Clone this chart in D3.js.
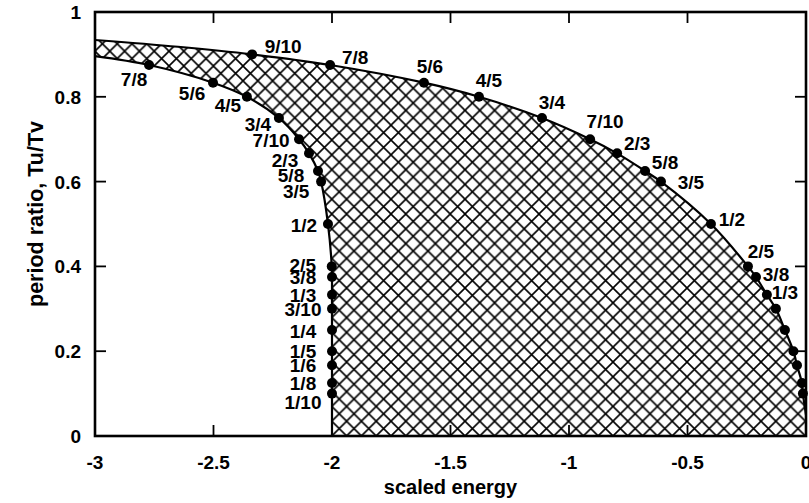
<!DOCTYPE html>
<html>
<head>
<meta charset="utf-8">
<script src="https://cdn.jsdelivr.net/npm/d3@7/dist/d3.min.js"></script>
<style>
  html, body { margin: 0; padding: 0; background: #fff; }
  svg { display: block; }
  text { font-family: "Liberation Sans", Arial, Helvetica, sans-serif; font-weight: bold; fill: #000; }
</style>
</head>
<body>
<svg id="chart" width="809" height="503"></svg>
<script>
// Rotation ratios (period ratio Tu/Tv) and their labels
const ratioLabels = ["1/10", "1/8", "1/6", "1/5", "1/4", "3/10", "1/3", "3/8", "2/5", "1/2",
                     "3/5", "5/8", "2/3", "7/10", "3/4", "4/5", "5/6", "7/8", "9/10"];
const ratioValues = [0.1, 0.125, 1 / 6, 0.2, 0.25, 0.3, 1 / 3, 0.375, 0.4, 0.5,
                     0.6, 0.625, 2 / 3, 0.7, 0.75, 0.8, 5 / 6, 0.875, 0.9];

// Scaled energy of each resonance on the outer (upper) boundary
const upperEnergy = [-0.013, -0.017, -0.038, -0.053, -0.089, -0.127, -0.165, -0.211, -0.245, -0.401,
                     -0.612, -0.679, -0.797, -0.911, -1.114, -1.380, -1.612, -2.008, -2.337];
// Scaled energy of each resonance on the inner (left) boundary; 9/10 is not reached there
const lowerEnergy = [-2.000, -2.000, -2.000, -2.000, -2.000, -2.000, -2.000, -2.000, -2.001, -2.017,
                     -2.046, -2.059, -2.097, -2.139, -2.224, -2.359, -2.502, -2.772, null];

// Boundary ends that carry no resonance marker
const upperStart = [-3, 0.934];
const upperBend = [-2.65, 0.918];
const upperEnd = [0, 0.05];
const lowerStart = [-3, 0.896];
const lowerEnd = [-2, 0];

// Axis ticks
const xTicks = [-3, -2.5, -2, -1.5, -1, -0.5, 0];
const yTicks = [0, 0.2, 0.4, 0.6, 0.8, 1];

// Label offsets (centre x, baseline y) from each marker, in pixels
const upperLabelOffset = {
  "9/10": [31, -1], "7/8": [25, -1], "5/6": [6, -10], "4/5": [10, -10], "3/4": [10, -9],
  "7/10": [15, -11], "2/3": [20, -3], "5/8": [20, -2], "3/5": [30, 7], "1/2": [21, 2],
  "2/5": [13, -8], "3/8": [20, 4], "1/3": [18, 4]
};
const lowerLabelOffset = {
  "7/8": [-15, 21], "5/6": [-21, 17], "4/5": [-19, 15], "3/4": [-21, 13], "7/10": [-28, 8],
  "2/3": [-24, 14], "5/8": [-27, 11], "3/5": [-25, 16], "1/2": [-24, 8],
  "2/5": [-29, 6], "3/8": [-29, 7], "1/3": [-29, 7], "3/10": [-29, 7], "1/4": [-29, 8],
  "1/5": [-29, 7], "1/6": [-29, 7], "1/8": [-29, 7], "1/10": [-29, 15]
};

const svg = d3.select("#chart");
const margin = { left: 95, right: 3, top: 12, bottom: 67 };
const W = 809, H = 503;
const x = d3.scaleLinear().domain([-3, 0]).range([margin.left, W - margin.right]);
const y = d3.scaleLinear().domain([0, 1]).range([H - margin.bottom, margin.top]);
const x0 = x(-3), x1 = x(0), y0 = y(0), y1 = y(1);

// Crosshatch pattern
const defs = svg.append("defs");
const p = 14.8;
const pat = defs.append("pattern")
  .attr("id", "xhatch").attr("patternUnits", "userSpaceOnUse")
  .attr("width", p).attr("height", p)
  .attr("x", x0).attr("y", y0);
pat.append("path")
  .attr("d", `M0,0L${p},${p}M${p},0L0,${p}M${-p / 2},${p / 2}L${p / 2},${3 * p / 2}M${p / 2},${-p / 2}L${3 * p / 2},${p / 2}M${p / 2},${-p / 2}L${-p / 2},${p / 2}M${3 * p / 2},${p / 2}L${p / 2},${3 * p / 2}`)
  .attr("stroke", "#000").attr("stroke-width", 1.6).attr("fill", "none");
defs.append("clipPath").attr("id", "plotclip")
  .append("rect").attr("x", x0).attr("y", y1).attr("width", x1 - x0).attr("height", y0 - y1);

// Boundary point lists
const upperPts = [upperStart, upperBend];
for (let i = ratioValues.length - 1; i >= 0; i--) upperPts.push([upperEnergy[i], ratioValues[i]]);
upperPts.push(upperEnd);

const lowerPts = [lowerStart];
for (let i = ratioValues.length - 1; i >= 0; i--) {
  if (lowerEnergy[i] !== null) lowerPts.push([lowerEnergy[i], ratioValues[i]]);
}
lowerPts.push(lowerEnd);

const line = d3.line().x(d => x(d[0])).y(d => y(d[1])).curve(d3.curveCatmullRom.alpha(0.5));

const upperD = line(upperPts);
const lowerD = line(lowerPts);
const lowerRevD = line(lowerPts.slice().reverse());

// Hatched region between the two boundaries
const regionD = upperD +
  `L${x(0)},${y(0)}L${x(-2)},${y(0)}` +
  "L" + lowerRevD.slice(1) + "Z";

const plot = svg.append("g").attr("clip-path", "url(#plotclip)");
plot.append("path").attr("d", regionD).attr("fill", "url(#xhatch)").attr("stroke", "none");
plot.append("path").attr("d", upperD).attr("fill", "none").attr("stroke", "#000").attr("stroke-width", 2.2);
plot.append("path").attr("d", lowerD).attr("fill", "none").attr("stroke", "#000").attr("stroke-width", 2.2);

// Resonance markers
const upperMarks = ratioValues.map((r, i) => ({ e: upperEnergy[i], r, label: ratioLabels[i] }));
const lowerMarks = ratioValues.map((r, i) => ({ e: lowerEnergy[i], r, label: ratioLabels[i] }))
  .filter(d => d.e !== null);

svg.append("g").selectAll("circle").data(upperMarks.concat(lowerMarks)).join("circle")
  .attr("cx", d => x(d.e)).attr("cy", d => y(d.r)).attr("r", 5).attr("fill", "#000");

// Marker labels
const labelG = svg.append("g").attr("font-size", 19).attr("text-anchor", "middle");
labelG.selectAll("text.up").data(upperMarks.filter(d => upperLabelOffset[d.label])).join("text")
  .attr("class", "up")
  .attr("x", d => x(d.e) + upperLabelOffset[d.label][0])
  .attr("y", d => y(d.r) + upperLabelOffset[d.label][1])
  .text(d => d.label);
labelG.selectAll("text.lo").data(lowerMarks.filter(d => lowerLabelOffset[d.label])).join("text")
  .attr("class", "lo")
  .attr("x", d => x(d.e) + lowerLabelOffset[d.label][0])
  .attr("y", d => y(d.r) + lowerLabelOffset[d.label][1])
  .text(d => d.label);

// Frame with inward ticks on all four sides
const tickLen = 11;
const frame = svg.append("g").attr("stroke", "#000").attr("fill", "none");
frame.selectAll("line.xb").data(xTicks).join("line").attr("class", "xb")
  .attr("x1", d => x(d)).attr("x2", d => x(d)).attr("y1", y0).attr("y2", y0 - tickLen).attr("stroke-width", 1.8);
frame.selectAll("line.xt").data(xTicks).join("line").attr("class", "xt")
  .attr("x1", d => x(d)).attr("x2", d => x(d)).attr("y1", y1).attr("y2", y1 + tickLen).attr("stroke-width", 1.8);
frame.selectAll("line.yl").data(yTicks).join("line").attr("class", "yl")
  .attr("y1", d => y(d)).attr("y2", d => y(d)).attr("x1", x0).attr("x2", x0 + tickLen).attr("stroke-width", 1.8);
frame.selectAll("line.yr").data(yTicks).join("line").attr("class", "yr")
  .attr("y1", d => y(d)).attr("y2", d => y(d)).attr("x1", x1).attr("x2", x1 - tickLen).attr("stroke-width", 1.8);
frame.append("rect").attr("x", x0).attr("y", y1).attr("width", x1 - x0).attr("height", y0 - y1)
  .attr("stroke-width", 2.6);

// Tick labels
const fmt = d => (d === 0 ? "0" : d === 1 ? "1" : String(d));
svg.append("g").attr("font-size", 19).attr("text-anchor", "middle")
  .selectAll("text").data(xTicks).join("text")
  .attr("x", d => x(d)).attr("y", y0 + 33).text(fmt);
svg.append("g").attr("font-size", 19).attr("text-anchor", "end")
  .selectAll("text").data(yTicks).join("text")
  .attr("x", x0 - 14).attr("y", d => y(d) + 7).text(fmt);

// Axis titles
svg.append("text").attr("font-size", 20).attr("text-anchor", "middle")
  .attr("x", (x0 + x1) / 2).attr("y", H - 9).text("scaled energy");
svg.append("text").attr("font-size", 21.5).attr("text-anchor", "middle")
  .attr("transform", `translate(43,${(y0 + y1) / 2 - 10}) rotate(-90)`)
  .text("period ratio,  Tu/Tv");
</script>
</body>
</html>
